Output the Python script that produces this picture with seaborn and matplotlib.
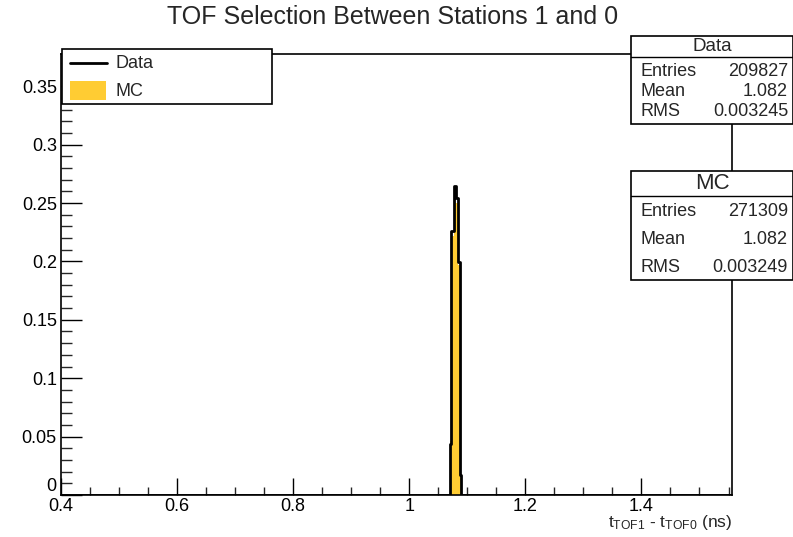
import numpy as np
import pandas as pd
import matplotlib
matplotlib.use("Agg")
import matplotlib.pyplot as plt
import seaborn as sns
from matplotlib.patches import Rectangle
from matplotlib.lines import Line2D

# ---------------- data ----------------
x_range = [0.4, 1.556]
peak_edges = [1.0707, 1.0724, 1.0764, 1.0805, 1.0833, 1.0867, 1.0891]
data_values = [0.044, 0.226, 0.2646, 0.254, 0.1995, 0.017]
mc_values = [0.046, 0.222, 0.262, 0.250, 0.197, 0.019]
data_stats = {"Entries": "209827", "Mean": "1.082", "RMS": "0.003245"}
mc_stats = {"Entries": "271309", "Mean": "1.082", "RMS": "0.003249"}
title = "TOF Selection Between Stations 1 and 0"
xlabel = r"t$_{\mathrm{TOF1}}$ - t$_{\mathrm{TOF0}}$ (ns)"

sns.set_theme(style="white")
plt.rcParams["font.family"] = ["Liberation Sans", "DejaVu Sans"]
plt.rcParams["mathtext.fontset"] = "custom"
plt.rcParams["mathtext.rm"] = "Liberation Sans"
plt.rcParams["mathtext.it"] = "Liberation Sans"

W, H = 793, 537
fig = plt.figure(figsize=(W / 100, H / 100), dpi=100)
fig.patch.set_facecolor("white")

def fx(x):
    return x / W

def fy(y):
    return 1 - y / H

L, R, T, B = 61, 732, 54, 495
ax = fig.add_axes([fx(L), fy(B), fx(R) - fx(L), fy(T) - fy(B)])
ax.set_facecolor("white")

edges = [x_range[0]] + peak_edges + [x_range[1]]
centers = [(a + b) / 2 for a, b in zip(edges[:-1], edges[1:])]
dv = [0.0] + data_values + [0.0]
mv = [0.0] + mc_values + [0.0]
df = pd.DataFrame({"x": centers, "data": dv, "mc": mv})

yellow = "#FFCC33"
sns.histplot(data=df, x="x", weights="mc", bins=edges, element="step",
             fill=True, color=yellow, alpha=1.0, linewidth=0, ax=ax)
sns.histplot(data=df, x="x", weights="data", bins=edges, element="step",
             fill=False, color="black", linewidth=2.0, ax=ax)

ax.set_xlim(*x_range)
ax.set_ylim(0, 0.3776)
ax.set_xlabel("")
ax.set_ylabel("")

for s in ax.spines.values():
    s.set_visible(True)
    s.set_color("black")
    s.set_linewidth(1.2)

ax.set_xticks(np.arange(0.4, 1.41, 0.2))
ax.set_xticklabels(["0.4", "0.6", "0.8", "1", "1.2", "1.4"])
ax.set_xticks(np.arange(0.4, 1.556, 0.05), minor=True)
ax.set_yticks(np.arange(0, 0.351, 0.05))
ax.set_yticklabels(["0", "0.05", "0.1", "0.15", "0.2", "0.25", "0.3", "0.35"])
ax.set_yticks(np.arange(0, 0.377, 0.01), minor=True)
ax.tick_params(axis="x", which="major", direction="in", length=12, width=1,
               labelsize=13, pad=2, bottom=True, top=False, colors="black")
ax.tick_params(axis="x", which="minor", direction="in", length=6, width=1,
               bottom=True, top=False)
ax.tick_params(axis="y", which="major", direction="in", length=15, width=1,
               labelsize=13, pad=3, left=True, right=False, colors="black")
ax.tick_params(axis="y", which="minor", direction="in", length=8, width=1,
               left=True, right=False)
ax.get_yticklabels()[0].set_verticalalignment("bottom")

# title
fig.text(fx(393), fy(17), title, ha="center", va="center", fontsize=18)
# x label
fig.text(fx(732), fy(523), xlabel, ha="right", va="center", fontsize=12.5)

# legend box
fig.patches.append(Rectangle((fx(62), fy(104)), fx(272) - fx(62), fy(49) - fy(104),
                             transform=fig.transFigure, facecolor="white",
                             edgecolor="black", linewidth=1.2, zorder=5))
fig.lines.append(Line2D([fx(70), fx(107)], [fy(63), fy(63)], transform=fig.transFigure,
                        color="black", linewidth=2, zorder=6))
fig.patches.append(Rectangle((fx(70), fy(100)), fx(106) - fx(70), fy(81) - fy(100),
                             transform=fig.transFigure, facecolor=yellow,
                             edgecolor="none", zorder=6))
fig.text(fx(115), fy(63), "Data", ha="left", va="center", fontsize=13, zorder=7)
fig.text(fx(115), fy(91), "MC", ha="left", va="center", fontsize=13, zorder=7)

def stats_box(top, bottom, sep, title_txt, title_size, rows, row_ys):
    x0, x1 = 631, 793
    fig.patches.append(Rectangle((fx(x0), fy(bottom)), fx(x1) - fx(x0), fy(top) - fy(bottom),
                                 transform=fig.transFigure, facecolor="white",
                                 edgecolor="black", linewidth=1.2, zorder=5))
    fig.lines.append(Line2D([fx(x0), fx(x1)], [fy(sep), fy(sep)], transform=fig.transFigure,
                            color="black", linewidth=1.0, zorder=6))
    fig.text(fx(712), fy((top + sep) / 2), title_txt, ha="center", va="center",
             fontsize=title_size, zorder=7)
    for (k, v), yy in zip(rows.items(), row_ys):
        fig.text(fx(640), fy(yy), k, ha="left", va="center", fontsize=13, zorder=7)
        fig.text(fx(788), fy(yy), v, ha="right", va="center", fontsize=13, zorder=7)

stats_box(36, 124, 57, "Data", 13.5, data_stats, [72, 92, 112])
stats_box(171, 280, 196, "MC", 16, mc_stats, [212, 240, 267])

fig.savefig("out.png", dpi=100, facecolor="white")
